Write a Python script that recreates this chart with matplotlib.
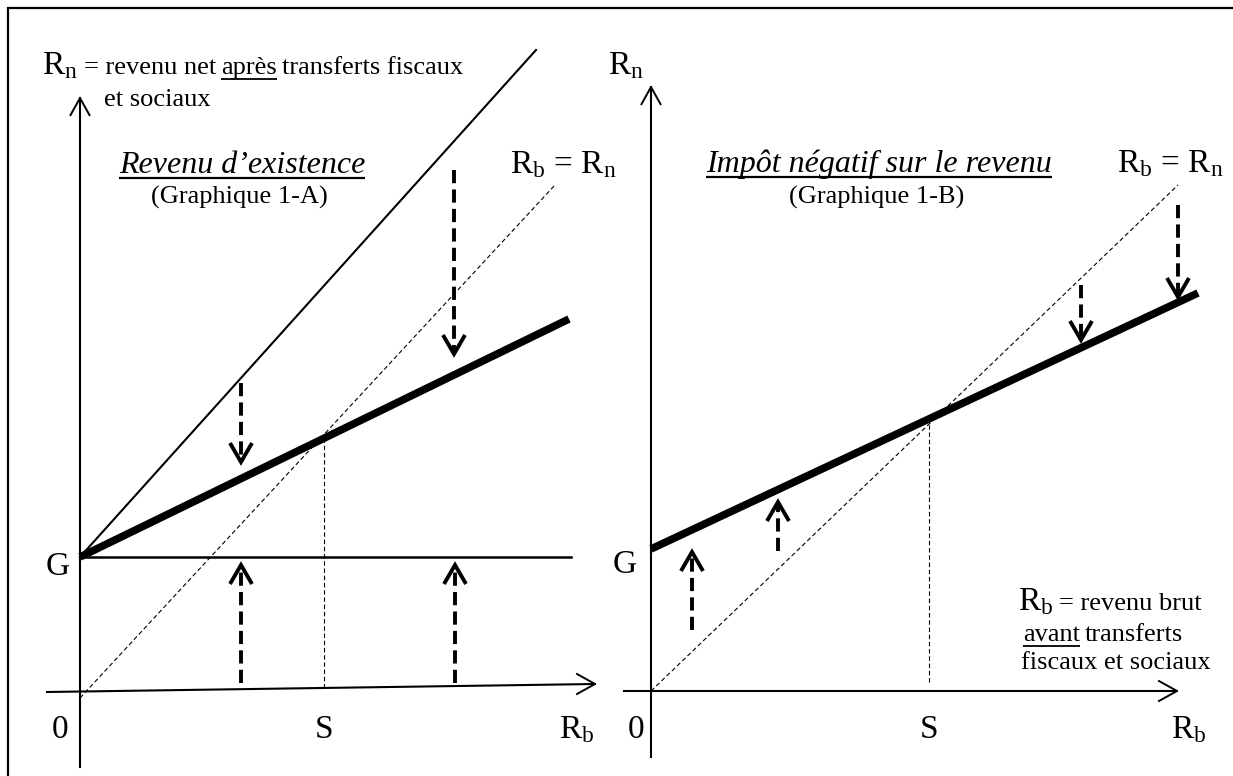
import matplotlib
matplotlib.use('Agg')
import matplotlib.pyplot as plt

plt.rcParams.update({'font.family': ['Liberation Serif', 'DejaVu Serif']})
plt.rcParams.update({'mathtext.fontset': 'custom'})
plt.rcParams.update({'mathtext.rm': 'Liberation Serif'})
plt.rcParams.update({'mathtext.it': 'Liberation Serif:italic'})

# everything in pixels, measured from each panel's origin (x right, y up)
# --- panel A : revenu d'existence
A_origin = (80, 697)
A_G = 140
A_xaxis = ([-33, 515], [5, 13])          # slightly tilted in the original
A_yaxis = ([0, 0], [-70, 599])
A_flat = ([0, 491], [A_G, A_G])          # G line
A_thick = ([0, 489], [A_G, 378])         # net income line
A_steep = ([0, 456], [A_G, 647])         # G + Rb
A_diag = ([0, 475], [-1, 512])           # Rb = Rn
A_S = 244
A_S_top = 257
A_arrows = [(161, 314, 235), (374, 527, 343), (161, 14, 132), (375, 14, 132)]

# --- panel B : impot negatif
B_origin = (651, 691)
B_G = 142
B_xaxis = ([-27, 526], [0, 0])
B_yaxis = ([0, 0], [-66, 604])
B_thick = ([0, 547], [B_G, 398])
B_diag = ([0, 527], [0, 506])
B_S = 278
B_S_top = 273
B_arrows = [(41, 61, 139), (127, 140, 189), (430, 406, 351), (527, 486, 394)]

W, H = 1233, 776
fig = plt.figure(figsize=(W / 100, H / 100), dpi=100)


def panel(origin):
    ax = fig.add_axes([0, 0, 1, 1])
    ax.set_xlim(-origin[0], W - origin[0])
    ax.set_ylim(-(H - origin[1]), origin[1])
    ax.axis('off')
    ax.patch.set_alpha(0)
    return ax


def head(ax, x, y, direction, w=11, h=19, lw=2.8):
    # open chevron arrow head, tip at (x, y)
    d = -1 if direction > 0 else 1
    ax.plot([x - w, x, x + w], [y + d * h, y, y + d * h], color='black',
            lw=lw, solid_joinstyle='miter', solid_capstyle='butt')


def dashed_arrow(ax, x, y0, y1):
    d = 1 if y1 > y0 else -1
    ax.plot([x, x], [y0, y1 - d * 3], color='black', lw=2.8,
            linestyle=(0, (3.4, 1.6)))
    head(ax, x, y1, d)


def axis_arrow(ax, xs, ys, vertical):
    ax.plot(xs, ys, color='black', lw=1.5)
    if vertical:
        head(ax, xs[1], ys[1], 1, w=10, h=18, lw=1.4)
    else:
        x, y = xs[1], ys[1]
        ax.plot([x - 18, x, x - 18], [y + 10, y, y - 10], color='black', lw=1.4)


def text_width(ax, s, **kw):
    t = ax.text(0, 0, s, **kw)
    r = fig.canvas.get_renderer()
    w = t.get_window_extent(r).width
    t.remove()
    return w


def underline(ax, x0, y, w, lw=1.3, dy=5):
    ax.plot([x0, x0 + w], [y - dy, y - dy], color='black', lw=lw,
            solid_capstyle='butt')


def runs(ax, x, y, parts):
    # parts: (text, size, style, underline, gap_after)
    for s, size, style, ul, gap in parts:
        ax.text(x, y, s, fontsize=size, style=style, va='baseline', ha='left')
        w = text_width(ax, s, fontsize=size, style=style, va='baseline')
        if ul:
            underline(ax, x, y, w)
        x += w + gap


axA = panel(A_origin)
axB = panel(B_origin)

# frame (top and left only)
fr = fig.add_axes([0, 0, 1, 1])
fr.set_xlim(0, W)
fr.set_ylim(H, 0)
fr.axis('off')
fr.patch.set_alpha(0)
fr.plot([7, W], [8, 8], color='black', lw=1.6, solid_capstyle='butt')
fr.plot([8, 8], [7, H], color='black', lw=1.6, solid_capstyle='butt')

thin_dash = (0, (4, 2.5))

# ---------------- panel A
ax = axA
axis_arrow(ax, *A_yaxis, vertical=True)
axis_arrow(ax, *A_xaxis, vertical=False)
ax.plot(*A_flat, color='black', lw=1.8)
ax.plot(*A_steep, color='black', lw=1.5)
ax.plot(*A_diag, color='black', lw=0.8, linestyle=thin_dash)
ax.plot([A_S, A_S], [9, A_S_top], color='black', lw=0.8, linestyle=thin_dash)
ax.plot(*A_thick, color='black', lw=5.5, solid_capstyle='butt')
for x, y0, y1 in A_arrows:
    dashed_arrow(ax, x, y0, y1)

ax.text(-22, A_G - 18, 'G', fontsize=24, ha='center', va='baseline')
ax.text(-20, -41, '0', fontsize=24, ha='center', va='baseline')
ax.text(A_S, -41, 'S', fontsize=24, ha='center', va='baseline')
ax.text(497, -41, r'R$_\mathrm{b}$', fontsize=24, ha='center', va='baseline')

runs(ax, -38, 623, [(r'R$_\mathrm{n}$', 24, 'normal', False, 6),
                    ('= revenu net', 19, 'normal', False, 5),
                    ('après', 19, 'normal', True, 5),
                    ('transferts fiscaux', 19, 'normal', False, 0)])
ax.text(24, 591, 'et sociaux', fontsize=19, ha='left', va='baseline')

ax.text(162, 524, 'Revenu d\u2019existence', fontsize=23, style='italic',
        ha='center', va='baseline')
w = text_width(ax, 'Revenu d\u2019existence', fontsize=23, style='italic')
underline(ax, 162 - w / 2, 524, w, lw=1.6)
ax.text(159, 493, '(Graphique 1-A)', fontsize=19, ha='center', va='baseline')
ax.text(430, 524, r'R$_\mathrm{b}$ = R$_\mathrm{n}$', fontsize=24,
        ha='left', va='baseline')

# ---------------- panel B
ax = axB
axis_arrow(ax, *B_yaxis, vertical=True)
axis_arrow(ax, *B_xaxis, vertical=False)
ax.plot(*B_diag, color='black', lw=0.8, linestyle=thin_dash)
ax.plot([B_S, B_S], [9, B_S_top], color='black', lw=0.8, linestyle=thin_dash)
ax.plot(*B_thick, color='black', lw=5.5, solid_capstyle='butt')
for x, y0, y1 in B_arrows:
    dashed_arrow(ax, x, y0, y1)

ax.text(-26, B_G - 24, 'G', fontsize=24, ha='center', va='baseline')
ax.text(-15, -47, '0', fontsize=24, ha='center', va='baseline')
ax.text(B_S, -47, 'S', fontsize=24, ha='center', va='baseline')
ax.text(538, -47, r'R$_\mathrm{b}$', fontsize=24, ha='center', va='baseline')
ax.text(-25, 617, r'R$_\mathrm{n}$', fontsize=24, ha='center', va='baseline')

ax.text(228, 519, 'Impôt négatif sur le revenu', fontsize=23,
        style='italic', ha='center', va='baseline')
w = text_width(ax, 'Impôt négatif sur le revenu', fontsize=23, style='italic')
underline(ax, 228 - w / 2, 519, w, lw=1.6)
ax.text(226, 487, '(Graphique 1-B)', fontsize=19, ha='center', va='baseline')
ax.text(466, 519, r'R$_\mathrm{b}$ = R$_\mathrm{n}$', fontsize=24,
        ha='left', va='baseline')

runs(ax, 367, 81, [(r'R$_\mathrm{b}$', 24, 'normal', False, 6),
                   ('= revenu brut', 19, 'normal', False, 0)])
runs(ax, 372, 50, [('avant', 19, 'normal', True, 5),
                   ('transferts', 19, 'normal', False, 0)])
ax.text(370, 22, 'fiscaux et sociaux', fontsize=19, ha='left', va='baseline')

fig.savefig('out.png', dpi=100)
